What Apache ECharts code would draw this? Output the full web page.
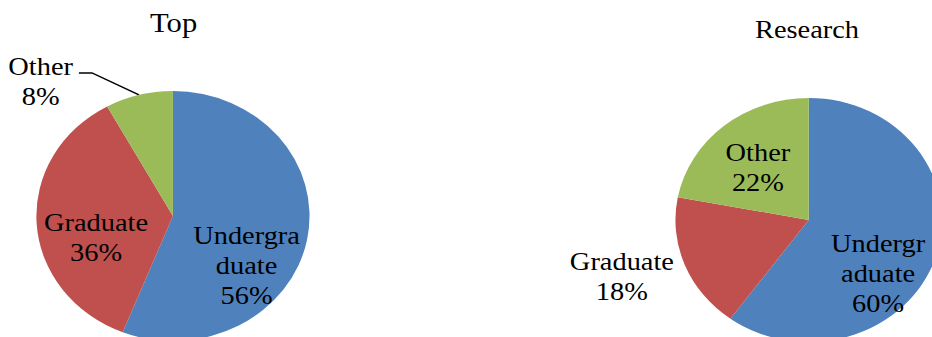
<!DOCTYPE html>
<html><head><meta charset="utf-8">
<script src="https://cdn.jsdelivr.net/npm/echarts@6/dist/echarts.min.js"></script>
<style>
html,body{margin:0;padding:0;background:#fff;overflow:hidden;width:932px;height:337px}
#chart{width:853px;height:337px;transform:scaleX(1.0926);transform-origin:0 0}
</style>
</head><body><div id="chart"></div>
<script>
// ---- data ----
const categories = ['Undergraduate', 'Graduate', 'Other'];
const titles = ['Top', 'Research'];
const topLabels = ['Undergra\nduate', 'Graduate', 'Other'];
const topValues = [56, 36, 8];
const researchLabels = ['Undergr\naduate', 'Graduate', 'Other'];
const researchValues = [60, 18, 22];

// ---- styles ----
const colors = ['#4F81BD', '#C0504D', '#9BBB59'];
const FONT = "'Liberation Serif', 'Times New Roman', serif";
const topShift = [[3, 37], [-5, 17]];
const researchShift = [[2.6, 33.6], [-111.5, 32.5], [-5.7, -3.5]];

function buildData(vals, labels) {
  return categories.map((c, i) => ({ name: c, value: vals[i], labelText: labels[i] }));
}
const topData = buildData(topValues, topLabels);
topData[2].label = { position: 'outside' };
topData[2].labelLine = { show: true, length: 20, length2: 15, lineStyle: { color: '#000', width: 1.5 } };
const researchData = buildData(researchValues, researchLabels);

const labelBase = {
  show: true, position: 'inside', color: '#000', fontSize: 26, lineHeight: 30,
  fontFamily: FONT, textBorderWidth: 0,
  formatter: function (p) { return p.data.labelText + '\n' + Math.round(p.percent) + '%'; }
};

const chart = echarts.init(document.getElementById('chart'), null, { renderer: 'svg' });
chart.setOption({
  animation: false,
  color: colors,
  title: [
    { text: titles[0], left: 153.9, top: 3.5, textAlign: 'center',
      textStyle: { fontFamily: FONT, fontSize: 28, fontWeight: 'normal', color: '#000' } },
    { text: titles[1], left: 733.6, top: 11.6, textAlign: 'center',
      textStyle: { fontFamily: FONT, fontSize: 26, fontWeight: 'normal', color: '#000' } }
  ],
  series: [
    {
      type: 'pie', center: [158.3, 216], radius: 125, startAngle: 90, clockwise: true,
      avoidLabelOverlap: false, itemStyle: { borderWidth: 0 },
      label: labelBase, labelLine: { show: false },
      emphasis: { disabled: true },
      data: topData,
      labelLayout: function (p) {
        if (p.dataIndex === 2) {
          const a = p.labelLinePoints && p.labelLinePoints[0];
          if (!a) return {};
          return {
            x: a[0] - 90, y: a[1] - 13.5, align: 'center', verticalAlign: 'middle',
            labelLinePoints: [[a[0], a[1]], [a[0] - 43, a[1] - 22], [a[0] - 55, a[1] - 22]]
          };
        }
        const s = topShift[p.dataIndex];
        return { dx: s[0], dy: s[1] };
      }
    },
    {
      type: 'pie', center: [740.2, 220], radius: 122, startAngle: 90, clockwise: true,
      avoidLabelOverlap: false, itemStyle: { borderWidth: 0 },
      label: labelBase, labelLine: { show: false },
      emphasis: { disabled: true },
      data: researchData,
      labelLayout: function (p) {
        const s = researchShift[p.dataIndex];
        return { dx: s[0], dy: s[1] };
      }
    }
  ]
});
</script>
</body></html>
